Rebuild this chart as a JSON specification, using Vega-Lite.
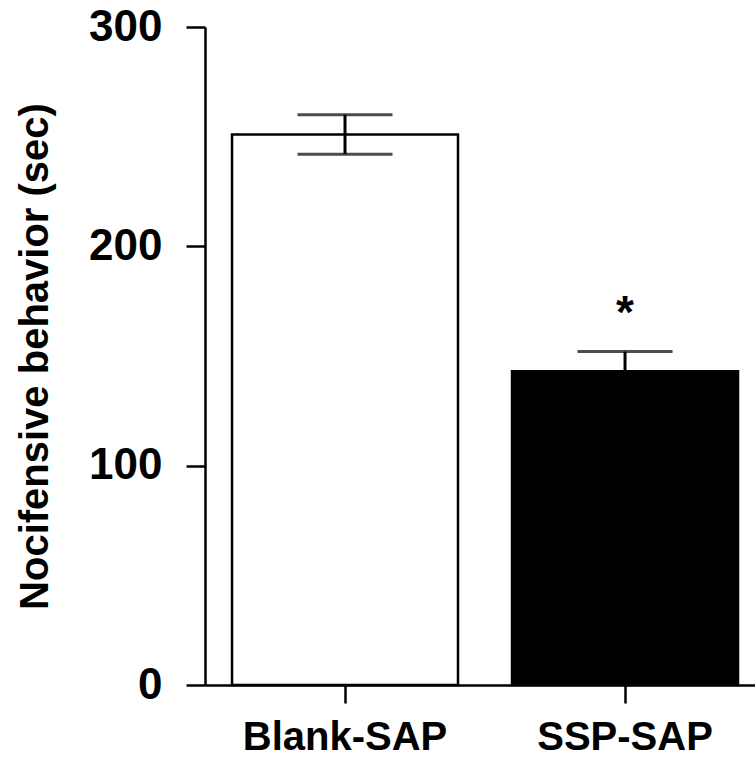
{
  "$schema": "https://vega.github.io/schema/vega-lite/v6.json",
  "autosize": "none",
  "width": 550,
  "height": 658,
  "padding": {"left": 205, "top": 27, "right": 0, "bottom": 77},
  "background": "white",
  "config": {
    "view": {"stroke": null},
    "font": "Liberation Sans",
    "axis": {
      "domainColor": "black",
      "domainWidth": 2.5,
      "tickColor": "black",
      "tickWidth": 2.5,
      "labelColor": "black",
      "labelFont": "Liberation Sans",
      "labelFontWeight": "bold",
      "titleFont": "Liberation Sans",
      "titleFontWeight": "bold",
      "titleColor": "black",
      "grid": false
    }
  },
  "data": {
    "values": [
      {"group": "Blank-SAP", "mean": 251, "lower": 242, "upper": 260, "sig": ""},
      {"group": "SSP-SAP", "mean": 143, "lower": 134, "upper": 152, "sig": "*"}
    ]
  },
  "encoding": {
    "x": {
      "field": "group",
      "type": "nominal",
      "sort": null,
      "scale": {"paddingInner": 0.193, "paddingOuter": 0.0786, "align": 0.614},
      "axis": {
        "title": null,
        "labelAngle": 0,
        "labelFontSize": 40,
        "labelLimit": 0,
        "tickSize": 18,
        "labelPadding": 14,
        "domainWidth": 2.5
      }
    }
  },
  "layer": [
    {
      "mark": {"type": "bar", "stroke": "black", "strokeWidth": 2.5},
      "encoding": {
        "y": {
          "field": "mean",
          "type": "quantitative",
          "scale": {"domain": [0, 300], "nice": false},
          "axis": {
            "values": [0, 100, 200, 300],
            "title": "Nocifensive behavior (sec)",
            "titleFontSize": 40,
            "titleX": -158,
            "titleY": 329,
            "titleAngle": -90,
            "titleAlign": "center",
            "titleBaseline": "alphabetic",
            "labelFontSize": 44,
            "tickSize": 19,
            "labelPadding": 24
          }
        },
        "fill": {
          "field": "group",
          "type": "nominal",
          "scale": {"domain": ["Blank-SAP", "SSP-SAP"], "range": ["white", "black"]},
          "legend": null
        }
      }
    },
    {
      "mark": {"type": "rule", "color": "black", "strokeWidth": 3},
      "encoding": {
        "y": {"field": "lower", "type": "quantitative"},
        "y2": {"field": "upper"}
      }
    },
    {
      "mark": {"type": "tick", "color": "black", "size": 95, "thickness": 3},
      "encoding": {
        "y": {"field": "upper", "type": "quantitative"}
      }
    },
    {
      "mark": {"type": "tick", "color": "black", "size": 95, "thickness": 3},
      "encoding": {
        "y": {"field": "lower", "type": "quantitative"}
      }
    },
    {
      "mark": {"type": "text", "fontSize": 46, "fontWeight": "bold", "color": "black", "baseline": "alphabetic", "dy": -24},
      "encoding": {
        "y": {"field": "upper", "type": "quantitative"},
        "text": {"field": "sig"}
      }
    }
  ]
}
